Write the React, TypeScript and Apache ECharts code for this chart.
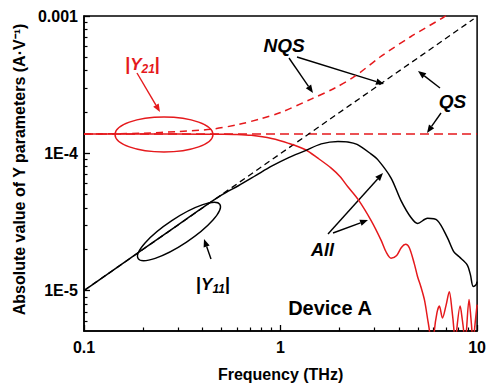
import React, { useEffect, useRef } from "react";
import * as echarts from "echarts";

const FONT = "'Liberation Sans', Arial, sans-serif";
const RED = "#e5191c";

// |Y21| (All) — red solid
const y21Freq = [0.1, 0.3, 0.5, 0.6, 0.71, 0.9, 1.1, 1.34, 1.55, 1.81, 2.0, 2.2, 2.48, 2.89, 3.25, 3.45, 3.65, 3.9, 4.12, 4.33, 4.52, 4.79, 4.98, 5.17, 5.4, 5.6, 5.73, 5.9, 6.05, 6.25, 6.43, 6.66, 6.95, 7.22, 7.45, 7.62, 7.75, 7.88, 8.2, 8.4, 8.55, 8.68, 8.82, 9.1, 9.3, 9.42, 9.55, 9.68, 10];
const y21All = [1.38e-4, 1.38e-4, 1.375e-4, 1.37e-4, 1.35e-4, 1.28e-4, 1.18e-4, 1.06e-4, 9.2e-5, 7.8e-5, 6.8e-5, 5.7e-5, 4.61e-5, 3.23e-5, 2.32e-5, 1.9e-5, 1.72e-5, 1.8e-5, 2.06e-5, 2.17e-5, 2.05e-5, 1.57e-5, 1.26e-5, 1.07e-5, 8.5e-6, 6.2e-6, 5.0e-6, 3.0e-6, 5.0e-6, 6.9e-6, 7.7e-6, 6.3e-6, 7.8e-6, 9.8e-6, 7.2e-6, 5.2e-6, 3.5e-6, 5.2e-6, 7.7e-6, 6.2e-6, 5.0e-6, 3.5e-6, 5.0e-6, 8.6e-6, 6.3e-6, 5.0e-6, 3.5e-6, 5.0e-6, 7.9e-6];

// |Y21| NQS — red dashed
const y21NqsFreq = [0.1, 0.2, 0.3, 0.45, 0.61, 0.8, 1.0, 1.44, 1.9, 2.39, 3.24, 4.59, 6.66, 7.1];
const y21Nqs = [1.38e-4, 1.4e-4, 1.44e-4, 1.5e-4, 1.62e-4, 1.79e-4, 1.98e-4, 2.49e-4, 3.0e-4, 3.64e-4, 5.07e-4, 7.06e-4, 9.67e-4, 1.03e-3];

// |Y21| QS — red dashed flat
const y21QsFreq = [0.1, 10];
const y21Qs = [1.38e-4, 1.38e-4];

// |Y11| (All) — black solid
const y11Freq = [0.1, 0.2, 0.3, 0.4, 0.5, 0.61, 0.75, 0.9, 1.1, 1.33, 1.61, 1.96, 2.2, 2.45, 2.88, 3.13, 3.65, 4.1, 4.61, 4.98, 5.59, 6.28, 7.05, 7.62, 8.11, 8.9, 9.25, 9.55, 9.88, 10];
const y11All = [1.0e-5, 2.0e-5, 3.0e-5, 4.0e-5, 4.95e-5, 5.8e-5, 6.9e-5, 8.05e-5, 9.3e-5, 1.04e-4, 1.17e-4, 1.22e-4, 1.21e-4, 1.16e-4, 9.9e-5, 8.95e-5, 6.6e-5, 4.52e-5, 3.4e-5, 3.08e-5, 3.36e-5, 3.24e-5, 2.44e-5, 1.91e-5, 1.76e-5, 1.54e-5, 1.3e-5, 1.07e-5, 1.1e-5, 1.16e-5];

// |Y11| QS / NQS — black dashed
const y11QsFreq = [0.1, 9.6];
const y11Qs = [1.0e-5, 9.5e-4];

// axes
const X_MIN = 0.1;
const X_MAX = 10;
const Y_MIN = 5.07e-6;
const Y_MAX = 1e-3;
const xMajor = [0.1, 1, 10];
const xMajorLabels = ["0.1", "1", "10"];
const yMajor = [1e-5, 1e-4, 1e-3];
const yMajorLabels = ["1E-5", "1E-4", "0.001"];
const minorMult = [2, 3, 4, 5, 6, 7, 8, 9];
const xDecades = [0.1, 1];
const yDecades = [1e-6, 1e-5, 1e-4];

const lg = Math.log10;
const pairs = (f: number[], v: number[]) => f.map((x, i) => [lg(x), lg(v[i])]);

function labelOf(majors: number[], labels: string[]) {
  return (v: number) => {
    const i = majors.findIndex((m) => Math.abs(lg(m) - v) < 1e-6);
    return i >= 0 ? labels[i] : "";
  };
}

function arrow(x1: number, y1: number, x2: number, y2: number, color: string) {
  const a = Math.atan2(y2 - y1, x2 - x1);
  const L = 8;
  const W = 3.2;
  const bx = x2 - L * Math.cos(a);
  const by = y2 - L * Math.sin(a);
  return {
    type: "group",
    children: [
      {
        type: "line",
        shape: { x1, y1, x2: bx, y2: by },
        style: { stroke: color, lineWidth: 1.4 },
      },
      {
        type: "polygon",
        shape: {
          points: [
            [x2, y2],
            [bx + W * Math.sin(a), by - W * Math.cos(a)],
            [bx - W * Math.sin(a), by + W * Math.cos(a)],
          ],
        },
        style: { fill: color },
      },
    ],
  };
}

function ymag(sub: string, color: string, x: number, y: number) {
  return {
    type: "text",
    x,
    y,
    style: {
      text: `{a||}{b|Y}{c|${sub}}{a||}`,
      align: "center",
      verticalAlign: "middle",
      fill: color,
      rich: {
        a: { fontSize: 18, fontWeight: "bold", fontFamily: FONT, fill: color, lineHeight: 22, verticalAlign: "middle" },
        b: { fontSize: 17, fontWeight: "bold", fontStyle: "italic", fontFamily: FONT, fill: color, lineHeight: 22, verticalAlign: "middle" },
        c: { fontSize: 12, fontWeight: "bold", fontStyle: "italic", fontFamily: FONT, fill: color, lineHeight: 14, verticalAlign: "bottom" },
      },
    },
  };
}

function label(text: string, x: number, y: number, size: number, italic: boolean) {
  return {
    type: "text",
    x,
    y,
    style: {
      text,
      align: "center",
      verticalAlign: "middle",
      fill: "#000",
      font: `${italic ? "italic " : ""}bold ${size}px ${FONT}`,
    },
  };
}

export default function App() {
  const ref = useRef<HTMLDivElement>(null);
  useEffect(() => {
    if (!ref.current) return;
    const chart = echarts.init(ref.current, undefined, { renderer: "svg" });
    const axisText = { color: "#000", fontWeight: "bold", fontSize: 16, fontFamily: FONT };
    const option: any = {
      animation: false,
      backgroundColor: "#fff",
      grid: { left: 84, right: 8, top: 16, bottom: 52, show: true, borderColor: "#000", borderWidth: 1.5 },
      xAxis: [
        {
          type: "value",
          min: lg(X_MIN),
          max: lg(X_MAX),
          position: "bottom",
          axisLine: { show: true, onZero: false, lineStyle: { color: "#000", width: 1.5 } },
          axisTick: { show: true, inside: true, length: 6, customValues: xMajor.map(lg), lineStyle: { color: "#000", width: 1.3 } },
          axisLabel: { show: true, customValues: xMajor.map(lg), formatter: labelOf(xMajor, xMajorLabels), margin: 8, ...axisText },
          splitLine: { show: false },
          name: "Frequency (THz)",
          nameLocation: "middle",
          nameGap: 35,
          nameTextStyle: { color: "#000", fontWeight: "bold", fontSize: 16, fontFamily: FONT },
        },
        {
          type: "value",
          min: lg(X_MIN),
          max: lg(X_MAX),
          position: "bottom",
          axisLine: { show: false, onZero: false },
          axisTick: {
            show: true,
            inside: true,
            length: 3.5,
            customValues: xDecades.flatMap((d) => minorMult.map((m) => lg(m * d))),
            lineStyle: { color: "#000", width: 1.2 },
          },
          axisLabel: { show: false },
          splitLine: { show: false },
        },
      ],
      yAxis: [
        {
          type: "value",
          min: lg(Y_MIN),
          max: lg(Y_MAX),
          position: "left",
          axisLine: { show: true, onZero: false, lineStyle: { color: "#000", width: 1.5 } },
          axisTick: { show: true, inside: true, length: 6, customValues: yMajor.map(lg), lineStyle: { color: "#000", width: 1.3 } },
          axisLabel: { show: true, customValues: yMajor.map(lg), formatter: labelOf(yMajor, yMajorLabels), margin: 6, ...axisText },
          splitLine: { show: false },
          name: "Absolute value of Y parameters (A·V⁻¹)",
          nameLocation: "middle",
          nameGap: 53,
          nameRotate: 90,
          nameTextStyle: {
            color: "#000",
            fontWeight: "bold",
            fontSize: 16,
            fontFamily: FONT,
            padding: [0, 0, 0, 8],
          },
        },
        {
          type: "value",
          min: lg(Y_MIN),
          max: lg(Y_MAX),
          position: "left",
          axisLine: { show: false, onZero: false },
          axisTick: {
            show: true,
            inside: true,
            length: 3.5,
            customValues: yDecades
              .flatMap((d) => minorMult.map((m) => m * d))
              .filter((v) => v >= Y_MIN)
              .map(lg),
            lineStyle: { color: "#000", width: 1.2 },
          },
          axisLabel: { show: false },
          splitLine: { show: false },
        },
      ],
      series: [
        {
          type: "line",
          data: pairs(y21QsFreq, y21Qs),
          showSymbol: false,
          lineStyle: { color: RED, width: 1.5, type: [9, 5] },
          z: 2,
        },
        {
          type: "line",
          data: pairs(y21NqsFreq, y21Nqs),
          showSymbol: false,
          smooth: 0.3,
          lineStyle: { color: RED, width: 1.5, type: [7, 5] },
          z: 2,
        },
        {
          type: "line",
          data: pairs(y11QsFreq, y11Qs),
          showSymbol: false,
          lineStyle: { color: "#000", width: 1.3, type: [6, 4] },
          z: 2,
        },
        {
          type: "line",
          data: pairs(y21Freq, y21All),
          showSymbol: false,
          smooth: 0.3,
          lineStyle: { color: RED, width: 1.5 },
          z: 3,
        },
        {
          type: "line",
          data: pairs(y11Freq, y11All),
          showSymbol: false,
          smooth: 0.3,
          lineStyle: { color: "#000", width: 1.5 },
          z: 4,
        },
      ],
      graphic: [
        {
          type: "ellipse",
          shape: { cx: 164, cy: 134.5, rx: 49, ry: 17.5 },
          style: { fill: "none", stroke: RED, lineWidth: 1.4 },
          z: 10,
        },
        {
          type: "ellipse",
          x: 179,
          y: 231.5,
          rotation: (33.5 * Math.PI) / 180,
          shape: { cx: 0, cy: 0, rx: 49, ry: 13 },
          style: { fill: "none", stroke: "#000", lineWidth: 1.4 },
          z: 10,
        },
        ymag("21", RED, 142.5, 64),
        ymag("11", "#000", 213, 284),
        arrow(137, 73, 160, 112, RED),
        arrow(211, 259, 204, 239, "#000"),
        label("NQS", 284, 45.5, 19, true),
        arrow(289, 58, 313, 93, "#000"),
        arrow(297, 57, 384, 84, "#000"),
        label("QS", 452.5, 101, 19, true),
        arrow(440, 88, 418, 71, "#000"),
        arrow(441, 113, 427, 133, "#000"),
        label("All", 322.5, 249.5, 18, true),
        arrow(328, 234, 383, 173, "#000"),
        arrow(333, 233, 368, 220, "#000"),
        label("Device A", 330, 308, 20, false),
      ],
    };
    chart.setOption(option);
    return () => chart.dispose();
  }, []);
  return (
    <div
      ref={ref}
      style={{ position: "fixed", left: 0, top: 0, width: 489, height: 387, background: "#fff" }}
    />
  );
}
